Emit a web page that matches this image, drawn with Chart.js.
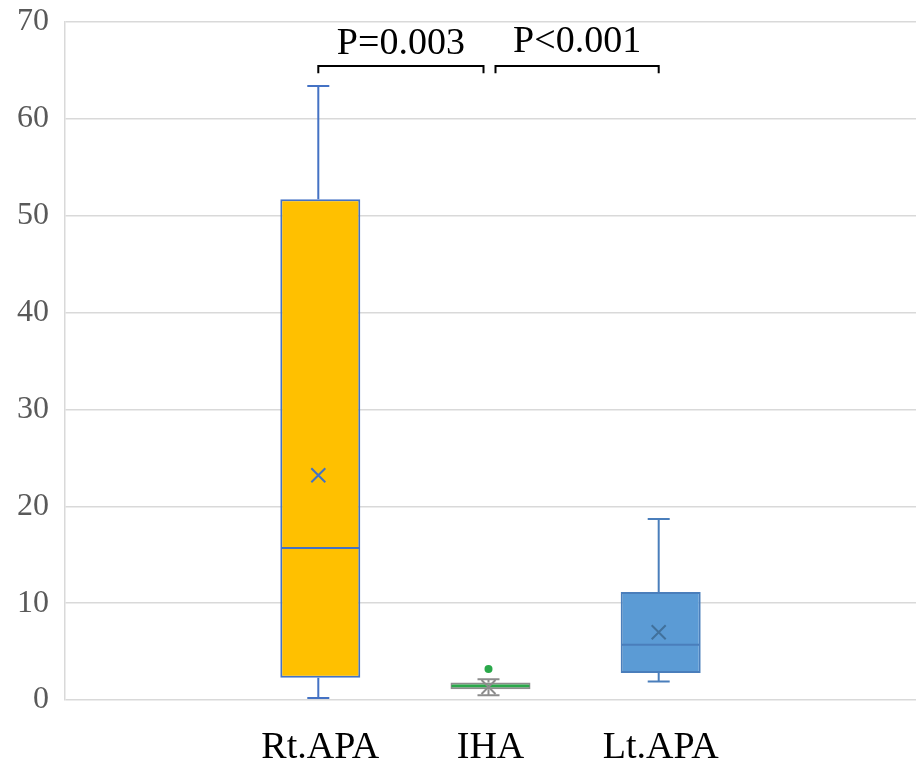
<!DOCTYPE html>
<html>
<head>
<meta charset="utf-8">
<script src="https://cdn.jsdelivr.net/npm/chart.js@4/dist/chart.umd.min.js"></script>
<style>
    html, body { margin: 0; padding: 0; background: #ffffff; }
    #wrap { width: 916px; height: 766px; }
</style>
</head>
<body>
<div id="wrap"><canvas id="box-chart" width="916" height="766"></canvas></div>
<script>
// box plot values
var groups = ["Rt.APA", "IHA", "Lt.APA"];
var whiskerLow = [0.2, 0.5, 1.9];
var q1 = [2.3, 1.1, 2.8];
var median = [15.7, 1.45, 5.7];
var q3 = [51.7, 1.8, 11.15];
var whiskerHigh = [63.4, 2.15, 18.7];
var mean = [23.2, 1.35, 7.0];
var outliers = [[], [3.2], []];
var yTicks = [0, 10, 20, 30, 40, 50, 60, 70];

var pLabels = ["P=0.003", "P<0.001"];
var pPairs = [[0, 1], [1, 2]];

var fillColors = ["#FFC000", "#2AA84A", "#5B9BD5"];
var lineColors = ["#4472C4", "#8C8C8C", "#4A7EBB"];
var markColors = ["#4472C4", "#8C8C8C", "#41719C"];

// empty slots on both ends, like the original category axis
var categories = [""].concat(groups).concat([""]);
var boxes = [null];
for (var i = 0; i < groups.length; i++) {
    boxes.push([q1[i], q3[i]]);
}
boxes.push(null);

var serif = "'Liberation Serif', 'Times New Roman', serif";

var boxExtras = {
    id: "boxExtras",
    afterDatasetsDraw: function (chart) {
        var ctx = chart.ctx;
        var xs = chart.scales.x;
        var ys = chart.scales.y;
        ctx.save();
        for (var i = 0; i < groups.length; i++) {
            var cx = xs.getPixelForValue(i + 1) - 2;
            var cap = 11;
            ctx.strokeStyle = lineColors[i];
            ctx.lineWidth = 2;
            ctx.beginPath();
            // upper whisker
            ctx.moveTo(cx, ys.getPixelForValue(q3[i]));
            ctx.lineTo(cx, ys.getPixelForValue(whiskerHigh[i]));
            ctx.moveTo(cx - cap, ys.getPixelForValue(whiskerHigh[i]));
            ctx.lineTo(cx + cap, ys.getPixelForValue(whiskerHigh[i]));
            // lower whisker
            ctx.moveTo(cx, ys.getPixelForValue(q1[i]));
            ctx.lineTo(cx, ys.getPixelForValue(whiskerLow[i]));
            ctx.moveTo(cx - cap, ys.getPixelForValue(whiskerLow[i]));
            ctx.lineTo(cx + cap, ys.getPixelForValue(whiskerLow[i]));
            ctx.stroke();

            // median
            var meta = chart.getDatasetMeta(0).data[i + 1];
            var half = meta.width / 2;
            ctx.strokeStyle = i === 1 ? "#2AA84A" : lineColors[i];
            ctx.beginPath();
            ctx.moveTo(meta.x - half + 1, ys.getPixelForValue(median[i]));
            ctx.lineTo(meta.x + half - 1, ys.getPixelForValue(median[i]));
            ctx.stroke();

            // mean cross
            var my = ys.getPixelForValue(mean[i]);
            var s = 7;
            ctx.strokeStyle = markColors[i];
            ctx.beginPath();
            ctx.moveTo(cx - s, my - s);
            ctx.lineTo(cx + s, my + s);
            ctx.moveTo(cx + s, my - s);
            ctx.lineTo(cx - s, my + s);
            ctx.stroke();

            // outliers
            ctx.fillStyle = fillColors[i];
            for (var k = 0; k < outliers[i].length; k++) {
                ctx.beginPath();
                ctx.arc(cx, ys.getPixelForValue(outliers[i][k]), 4, 0, Math.PI * 2);
                ctx.fill();
            }
        }

        // significance brackets
        ctx.strokeStyle = "#000000";
        ctx.fillStyle = "#000000";
        ctx.lineWidth = 2;
        ctx.font = "38px " + serif;
        ctx.textAlign = "center";
        ctx.textBaseline = "alphabetic";
        var top = ys.getPixelForValue(65.45);
        var foot = ys.getPixelForValue(64.7);
        for (var j = 0; j < pPairs.length; j++) {
            var left = xs.getPixelForValue(pPairs[j][0] + 1) + (j === 0 ? -2 : 5);
            var right = xs.getPixelForValue(pPairs[j][1] + 1) - (j === 0 ? 7 : 2);
            ctx.beginPath();
            ctx.moveTo(left, foot);
            ctx.lineTo(left, top);
            ctx.lineTo(right, top);
            ctx.lineTo(right, foot);
            ctx.stroke();
            ctx.fillText(pLabels[j], (left + right) / 2, ys.getPixelForValue(j === 0 ? 66.7 : 66.9));
        }
        ctx.restore();
    }
};

var chartInstance = new Chart(document.getElementById("box-chart").getContext("2d"), {
    type: "bar",
    data: {
        labels: categories,
        datasets: [{
            data: boxes,
            backgroundColor: [null].concat(fillColors).concat([null]),
            borderColor: [null].concat(lineColors).concat([null]),
            borderWidth: 2,
            borderSkipped: false,
            barPercentage: 0.47,
            categoryPercentage: 1
        }]
    },
    options: {
        responsive: false,
        animation: false,
        layout: { padding: { top: 22, right: 0, left: 0, bottom: 0 } },
        plugins: {
            legend: { display: false },
            tooltip: { enabled: false }
        },
        scales: {
            x: {
                grid: { display: false, drawTicks: false },
                border: { display: false },
                ticks: {
                    color: "#000000",
                    font: { family: serif, size: 38 },
                    padding: 25,
                    maxRotation: 0,
                    autoSkip: false
                },
                afterFit: function (scale) { scale.height = 66; }
            },
            y: {
                min: 0,
                max: 70,
                afterBuildTicks: function (scale) {
                    scale.ticks = yTicks.map(function (v) { return { value: v }; });
                },
                grid: { color: "#D9D9D9", lineWidth: 1.5, drawTicks: false },
                border: { display: true, color: "#D9D9D9", width: 1.5 },
                ticks: {
                    color: "#595959",
                    font: { family: serif, size: 32, lineHeight: 0.35 },
                    padding: 16
                },
                afterFit: function (scale) { scale.width = 65; }
            }
        }
    },
    plugins: [boxExtras]
});
</script>
</body>
</html>
